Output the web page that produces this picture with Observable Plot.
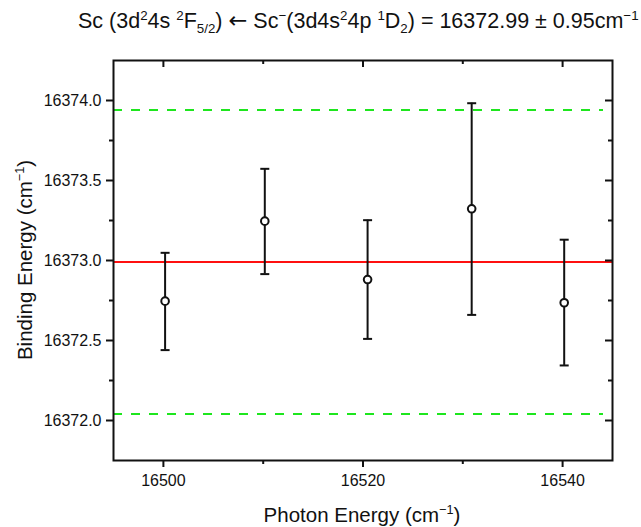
<!DOCTYPE html>
<html><head><meta charset="utf-8">
<script src="https://cdn.jsdelivr.net/npm/d3@7"></script>
<script src="https://cdn.jsdelivr.net/npm/@observablehq/plot@0.6"></script>
<style>
html,body{margin:0;padding:0;background:#fff;}
#wrap{position:relative;width:641px;height:527px;overflow:hidden;font-family:"Liberation Sans",Arial,sans-serif;color:#111;}
#wrap svg{position:absolute;left:0;top:0;}
.lab{position:absolute;white-space:nowrap;font-size:20.5px;line-height:20px;}
.lab sup,.lab sub{font-size:0.62em;line-height:0;}
.arrow{font-family:"DejaVu Sans",sans-serif;font-size:1.05em;}
</style></head><body>
<div id="wrap"></div>
<script>
// data
const photonEnergy = [16500.17, 16510.16, 16520.46, 16530.89, 16540.16];
const bindingEnergy = [16372.746, 16373.246, 16372.881, 16373.323, 16372.736];
const errUpper = [16373.048, 16373.573, 16373.252, 16373.983, 16373.13];
const errLower = [16372.44, 16372.915, 16372.51, 16372.66, 16372.344];
const meanLine = [16372.99];
const boundLines = [16373.94, 16372.04];
const xMajorTicks = [16500, 16520, 16540];
const xMinorTicks = [16510, 16530];
const yMajorTicks = [16372.0, 16372.5, 16373.0, 16373.5, 16374.0];
const yMinorTicks = [16372.25, 16372.75, 16373.25, 16373.75];

const data = photonEnergy.map((x, i) => ({x, y: bindingEnergy[i], hi: errUpper[i], lo: errLower[i]}));

const W = 641, H = 527, mL = 113, mR = 29, mT = 60, mB = 67;
const pw = W - mL - mR, ph = H - mT - mB;
const ink = "#111";

const capSymbol = {draw(ctx, size) { const r = Math.sqrt(size / Math.PI); ctx.moveTo(-r, 0); ctx.lineTo(r, 0); }};

const chart = Plot.plot({
  width: W, height: H,
  marginLeft: mL, marginRight: mR, marginTop: mT, marginBottom: mB,
  style: {fontFamily: '"Liberation Sans", Arial, sans-serif', fontSize: "16px", color: ink, background: "transparent"},
  x: {domain: [16495, 16545]},
  y: {domain: [16371.75, 16374.25]},
  marks: [
    Plot.ruleY(boundLines, {y: d => d, stroke: "#1ee61e", strokeWidth: 2, strokeDasharray: "9,9", insetRight: 9}),
    Plot.ruleY(meanLine, {y: d => d, stroke: "#ff1010", strokeWidth: 2}),
    Plot.ruleX(data, {x: "x", y1: "lo", y2: "hi", stroke: ink, strokeWidth: 2}),
    Plot.dot(data, {x: "x", y: "hi", symbol: capSymbol, r: 4.5, stroke: ink, strokeWidth: 2, fill: "none"}),
    Plot.dot(data, {x: "x", y: "lo", symbol: capSymbol, r: 4.5, stroke: ink, strokeWidth: 2, fill: "none"}),
    Plot.dot(data, {x: "x", y: "y", r: 3.8, stroke: ink, strokeWidth: 2, fill: "white"}),
    // bottom axis (outward)
    Plot.axisX({ticks: xMajorTicks, tickSize: 7, tickPadding: 7, fontSize: 16, label: null, strokeWidth: 2, tickFormat: d => String(d)}),
    Plot.axisX({ticks: xMinorTicks, tickSize: 4, label: null, strokeWidth: 2, tickFormat: () => ""}),
    // left axis (outward)
    Plot.axisY({ticks: yMajorTicks, tickSize: 7, tickPadding: 5, fontSize: 16, label: null, strokeWidth: 2, tickFormat: d => d.toFixed(1)}),
    Plot.axisY({ticks: yMinorTicks, tickSize: 4, label: null, strokeWidth: 2, tickFormat: () => ""}),
    // top mirror ticks (inward)
    Plot.tickX(xMajorTicks, {x: d => d, insetBottom: ph - 7, stroke: ink, strokeWidth: 2}),
    Plot.tickX(xMinorTicks, {x: d => d, insetBottom: ph - 4, stroke: ink, strokeWidth: 2}),
    // right mirror ticks (inward)
    Plot.tickY(yMajorTicks, {y: d => d, insetLeft: pw - 7, stroke: ink, strokeWidth: 2}),
    Plot.tickY(yMinorTicks, {y: d => d, insetLeft: pw - 4, stroke: ink, strokeWidth: 2}),
    Plot.frame({stroke: ink, strokeWidth: 2})
  ]
});

const wrap = document.getElementById("wrap");
wrap.appendChild(chart);

function addLabel(html, css) {
  const d = document.createElement("div");
  d.className = "lab";
  d.innerHTML = html;
  Object.assign(d.style, css);
  wrap.appendChild(d);
  return d;
}
addLabel('Sc (3d<sup>2</sup>4s <sup>2</sup>F<sub>5/2</sub>) <span class="arrow">\u2190</span> Sc<sup>\u2212</sup>(3d4s<sup>2</sup>4p <sup>1</sup>D<sub>2</sub>) = 16372.99 \u00b1 0.95cm<sup>\u22121</sup>',
  {left: "78px", top: "10px", fontSize: "21.5px"});
addLabel('Photon Energy (cm<sup>\u22121</sup>)', {left: "362px", top: "505px", transform: "translateX(-50%)"});
addLabel('Binding Energy (cm<sup>\u22121</sup>)', {left: "25px", top: "260px", transform: "translate(-50%,-50%) rotate(-90deg)"});
</script>
</body></html>
